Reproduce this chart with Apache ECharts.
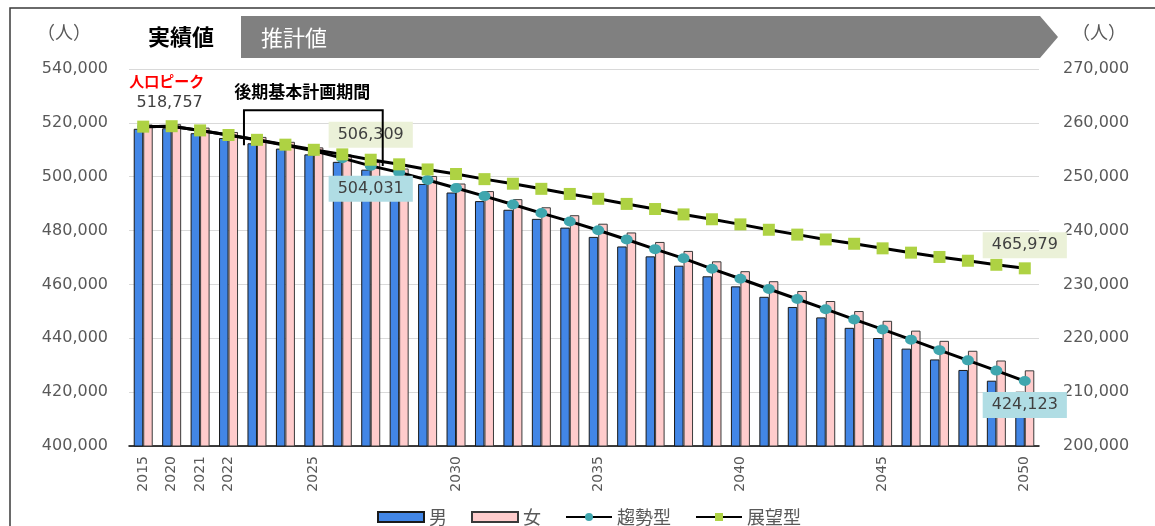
<!DOCTYPE html>
<html>
<head>
<meta charset="utf-8">
<script src="https://cdn.jsdelivr.net/npm/echarts@6/dist/echarts.min.js"></script>
<style>
html,body{margin:0;padding:0;background:#fff;}
#c{width:1155px;height:526px;}
</style>
</head>
<body>
<div id="c"></div>
<script>
const categories = ['2015','2020','2021','2022','2023','2024','2025','2026','2027','2028','2029','2030','2031','2032','2033','2034','2035','2036','2037','2038','2039','2040','2041','2042','2043','2044','2045','2046','2047','2048','2049','2050'];
const tickLabels = ['2015','2020','2021','2022','2025','2030','2035','2040','2045','2050'];
const male = [258900,259000,258080,257193,256206,255219,254150,252763,251310,250076,248657,247065,245472,243866,242173,240549,238825,237050,235213,233476,231508,229639,227702,225815,223878,221940,220053,218079,216073,214118,212125,210075];
const female = [259694,259757,259120,258307,257394,256481,255450,254137,252721,251524,250143,248735,247328,245834,244327,242851,241275,239650,237887,236224,234292,232461,230598,228785,226922,225060,223247,221421,219527,217682,215875,214049];
const trend = [518594,518757,517200,515500,513600,511700,509600,506900,504031,501600,498800,495800,492800,489700,486500,483400,480100,476700,473100,469700,465800,462100,458300,454600,450800,447000,443300,439500,435600,431800,428000,424123];
const vision = [518594,518757,517200,515500,513700,511900,510000,508300,506309,504600,502700,501000,499100,497400,495500,493600,491800,489900,488000,486000,484200,482300,480300,478500,476700,475100,473400,471800,470200,468800,467300,465979];
const seriesNames = ['男','女','趨勢型','展望型'];
const leftTicks = {min:400000,max:540000,interval:20000};
const rightTicks = {min:200000,max:270000,interval:10000};
const planStart = '2023', planEnd = '2027';

const fmt = v => Number(v).toLocaleString('en-US');
const FONT = '"Noto Sans CJK JP","Noto Sans",sans-serif';
const NUMFONT = '"DejaVu Sans","Noto Sans",sans-serif';

function labeled(arr, idxMap) {
  return arr.map((v, i) => idxMap[i] ? {value: v, label: idxMap[i]} : v);
}
const boxLabel = (bg, pos, dist) => ({
  show: true, position: pos, distance: dist, formatter: p => fmt(p.value),
  backgroundColor: bg, color: '#404040', fontSize: 16, fontFamily: NUMFONT,
  padding: [4, 9], lineHeight: 18
});
const lastIdx = categories.length - 1;
const trendData = labeled(trend, {
  1: {show: true, position: 'top', distance: 8, offset: [-2, 1],
      formatter: () => '{a|人口ピーク}\n{b|' + fmt(trend[1]) + '}',
      rich: {a: {color: '#ff0000', fontSize: 15, fontWeight: 'bold', fontFamily: FONT, lineHeight: 22, padding: [0, 6, 0, 0]},
             b: {color: '#404040', fontSize: 16, fontFamily: NUMFONT, lineHeight: 22}}},
  8: boxLabel('#b0dde4', 'bottom', 5),
  [lastIdx]: boxLabel('#b0dde4', 'bottom', 6)
});
const visionData = labeled(vision, {
  8: boxLabel('#ebf1d8', 'top', 6),
  [lastIdx]: boxLabel('#ebf1d8', 'top', 4)
});

const chart = echarts.init(document.getElementById('c'), null, {renderer: 'canvas'});
const option = {
  backgroundColor: '#fff',
  animation: false,
  grid: {left: 129, right: 116, top: 69, bottom: 80},
  legend: {
    left: 372, top: 503, itemGap: 24, itemWidth: 46, itemHeight: 10,
    textStyle: {fontSize: 18, color: '#595959', fontFamily: FONT},
    data: [{name: seriesNames[0], icon: 'rect'}, {name: seriesNames[1], icon: 'rect'}, seriesNames[2], seriesNames[3]]
  },
  xAxis: {
    type: 'category', data: categories,
    axisLine: {lineStyle: {color: '#000', width: 1.5}},
    axisTick: {show: false},
    axisLabel: {rotate: 90, fontSize: 14, color: '#595959', fontFamily: NUMFONT, margin: 10,
      interval: (i, v) => tickLabels.indexOf(v) >= 0}
  },
  yAxis: [
    {type: 'value', min: leftTicks.min, max: leftTicks.max, interval: leftTicks.interval,
     axisLine: {show: false}, axisTick: {show: false},
     axisLabel: {formatter: fmt, fontSize: 16, color: '#595959', fontFamily: NUMFONT, margin: 21},
     splitLine: {lineStyle: {color: '#d9d9d9', width: 1}}},
    {type: 'value', min: rightTicks.min, max: rightTicks.max, interval: rightTicks.interval,
     axisLine: {show: false}, axisTick: {show: false},
     axisLabel: {formatter: fmt, fontSize: 16, color: '#595959', fontFamily: NUMFONT, margin: 24},
     splitLine: {show: false}}
  ],
  series: [
    {name: seriesNames[0], type: 'bar', yAxisIndex: 1, data: male, barWidth: 9.5, barGap: '0%',
     itemStyle: {color: '#4286e6', borderColor: '#1a1a1a', borderWidth: 1}},
    {name: seriesNames[1], type: 'bar', yAxisIndex: 1, data: female, barWidth: 9.5, barGap: '0%',
     itemStyle: {color: '#ffcccc', borderColor: '#3a3a3a', borderWidth: 1}},
    {name: seriesNames[2], type: 'line', yAxisIndex: 0, data: trendData, z: 5,
     symbol: 'circle', symbolSize: [12, 10],
     lineStyle: {color: '#000', width: 3},
     itemStyle: {color: '#3fa6ae', borderWidth: 0}},
    {name: seriesNames[3], type: 'line', yAxisIndex: 0, data: visionData, z: 6,
     symbol: 'rect', symbolSize: 12,
     lineStyle: {color: '#000', width: 3},
     itemStyle: {color: '#aed243', borderWidth: 0}}
  ]
};
chart.setOption(option);

// annotations positioned through the axes
const ci = categories.indexOf(planStart), cj = categories.indexOf(planEnd);
const xL = chart.convertToPixel({xAxisIndex: 0}, ci) - 13;
const xR = chart.convertToPixel({xAxisIndex: 0}, cj) + 12;
const yTop = chart.convertToPixel({yAxisIndex: 0}, 524700);
const yLB = chart.convertToPixel({yAxisIndex: 0}, 511700);
const yRB = chart.convertToPixel({yAxisIndex: 0}, 504000);

chart.setOption({
  graphic: [
    {type: 'rect', shape: {x: 10, y: 8, width: 1160, height: 540}, style: {fill: null, stroke: '#3a3a3a', lineWidth: 1.5}, z: 0, silent: true},
    {type: 'polygon', shape: {points: [[241,16],[1040,16],[1058,37],[1040,58],[241,58]]}, style: {fill: '#808080'}, z: 1},
    {type: 'text', x: 148, y: 37, z: 3, style: {text: '実績値', fontSize: 22, fill: '#000', fontFamily: FONT, fontWeight: 'bold', verticalAlign: 'middle'}},
    {type: 'text', x: 261, y: 38, z: 3, style: {text: '推計値', fontSize: 22, fill: '#fff', fontFamily: FONT, verticalAlign: 'middle'}},
    {type: 'text', x: 37, y: 32, z: 3, style: {text: '（人）', fontSize: 18, fill: '#595959', fontFamily: FONT, verticalAlign: 'middle'}},
    {type: 'text', x: 1072, y: 32, z: 3, style: {text: '（人）', fontSize: 18, fill: '#595959', fontFamily: FONT, verticalAlign: 'middle'}},
    {type: 'polyline', shape: {points: [[xL, yLB],[xL, yTop],[xR, yTop],[xR, yRB]]}, style: {stroke: '#000', lineWidth: 2, fill: null}, z: 10},
    {type: 'text', x: (xL + xR) / 2 - 11, y: yTop - 19, z: 10, style: {text: '後期基本計画期間', fontSize: 17, fontWeight: 'bold', fill: '#000', fontFamily: FONT, align: 'center', verticalAlign: 'middle'}}
  ]
});
</script>
</body>
</html>
